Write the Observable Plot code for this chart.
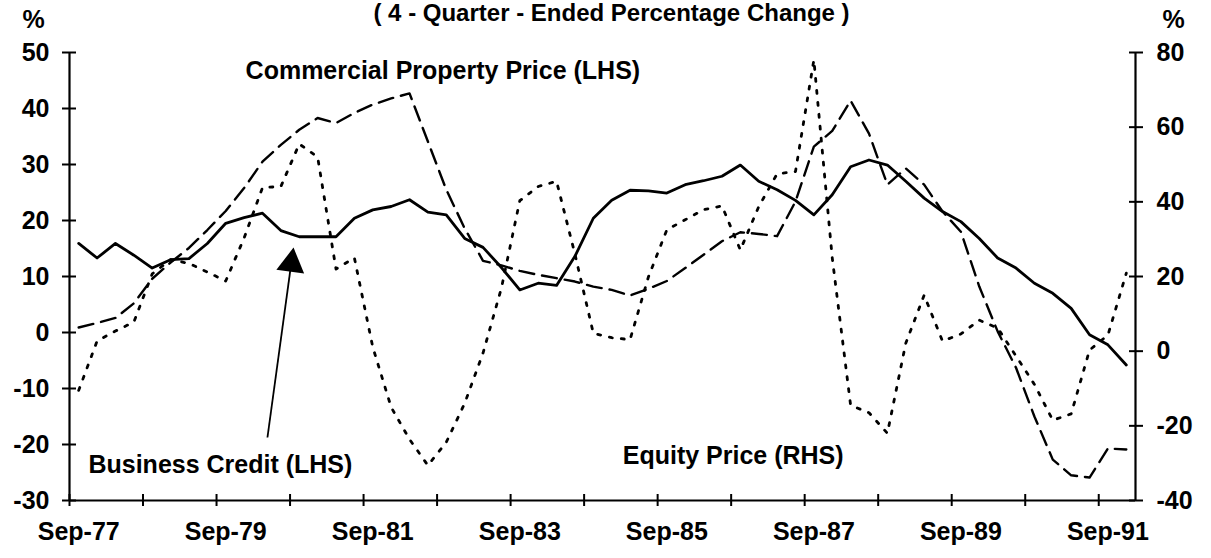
<!DOCTYPE html>
<html>
<head>
<meta charset="utf-8">
<script src="https://cdn.jsdelivr.net/npm/d3@7"></script>
<script src="https://cdn.jsdelivr.net/npm/@observablehq/plot@0.6"></script>
<style>
  html, body { margin: 0; padding: 0; background: #fff; }
</style>
</head>
<body>
<div id="chart"></div>
<script>
// ---- Data ----
const quarters = [
  "Sep-77","Dec-77",
  "Mar-78","Jun-78","Sep-78","Dec-78",
  "Mar-79","Jun-79","Sep-79","Dec-79",
  "Mar-80","Jun-80","Sep-80","Dec-80",
  "Mar-81","Jun-81","Sep-81","Dec-81",
  "Mar-82","Jun-82","Sep-82","Dec-82",
  "Mar-83","Jun-83","Sep-83","Dec-83",
  "Mar-84","Jun-84","Sep-84","Dec-84",
  "Mar-85","Jun-85","Sep-85","Dec-85",
  "Mar-86","Jun-86","Sep-86","Dec-86",
  "Mar-87","Jun-87","Sep-87","Dec-87",
  "Mar-88","Jun-88","Sep-88","Dec-88",
  "Mar-89","Jun-89","Sep-89","Dec-89",
  "Mar-90","Jun-90","Sep-90","Dec-90",
  "Mar-91","Jun-91","Sep-91","Dec-91"
];

// Business Credit (LHS, %)
const businessCredit = [
  15.9, 13.3, 15.9, 13.8, 11.5, 13.0, 13.2, 15.9, 19.5, 20.5,
  21.3, 18.2, 17.1, 17.1, 17.1, 20.4, 21.9, 22.5, 23.7, 21.5,
  21.0, 16.8, 15.2, 11.6, 7.6, 8.8, 8.4, 13.6, 20.4, 23.6,
  25.4, 25.3, 24.9, 26.4, 27.1, 27.9, 29.9, 27.0, 25.5, 23.6,
  21.0, 24.6, 29.6, 30.8, 29.9, 27.0, 24.0, 21.6, 19.8, 16.8,
  13.3, 11.5, 8.8, 7.0, 4.3, -0.4, -2.2, -5.8
];

// Commercial Property Price (LHS, %)
const propertyPrice = [
  0.9, 1.7, 2.6, 5.2, 9.6, 12.5, 15.1, 18.3, 21.7, 25.8,
  30.5, 33.5, 36.2, 38.3, 37.4, 39.2, 40.7, 41.8, 42.7, 34.1,
  25.5, 18.6, 12.8, 12.0, 11.0, 10.3, 9.7, 9.1, 8.2, 7.6,
  6.6, 7.8, 9.2, 11.5, 13.9, 16.3, 17.9, 17.6, 17.2, 23.4,
  33.2, 36.0, 41.4, 35.5, 26.4, 29.3, 26.4, 21.6, 18.0, 8.2,
  0.2, -6.3, -15.0, -22.7, -25.5, -25.9, -20.7, -20.9
];

// Equity Price (RHS, %)
const equityPrice = [
  -10.5, 2.7, 5.4, 7.8, 20.7, 24.5, 23.5, 21.2, 18.8, 30.3,
  43.8, 44.1, 55.5, 52.0, 22.0, 25.0, 1.1, -15.0, -23.6, -30.6,
  -24.4, -14.0, -0.5, 16.9, 40.3, 44.1, 45.5, 26.0, 4.8, 3.6,
  3.1, 19.9, 32.5, 35.2, 37.9, 38.9, 27.1, 38.7, 47.5, 48.1,
  78.0, 25.0, -14.5, -16.5, -22.0, 2.1, 15.0, 2.7, 4.6, 8.3,
  6.2, -1.3, -8.9, -18.5, -16.8, 0.3, 4.3, 20.9
];

const leftTicks = [-30, -20, -10, 0, 10, 20, 30, 40, 50];
const rightTicks = [-40, -20, 0, 20, 40, 60, 80];
const xTickLabels = ["Sep-77","Sep-79","Sep-81","Sep-83","Sep-85","Sep-87","Sep-89","Sep-91"];

const title = "( 4 - Quarter - Ended Percentage Change )";

// ---- Scales helpers ----
// right axis [-40, 80] maps onto left axis [-30, 50]
const toLeft = r => -30 + (r + 40) * (80 / 120);
const toRight = v => (v + 30) * (120 / 80) - 40;

const rows = quarters.map((q, i) => ({
  i, q,
  credit: businessCredit[i],
  property: propertyPrice[i],
  equity: equityPrice[i]
}));

const yearBoundaries = d3.range(-0.5, quarters.length - 1, 4); // tick marks between years
const labelIdx = xTickLabels.map(l => quarters.indexOf(l));

const font = "'Liberation Sans', Arial, Helvetica, sans-serif";

const chart = Plot.plot({
  width: 1211,
  height: 558,
  marginLeft: 69,
  marginRight: 76,
  marginTop: 52,
  marginBottom: 58,
  x: { type: "linear", domain: [-0.5, quarters.length - 0.5] },
  y: { domain: [-30, 50] },
  style: { fontFamily: font, fontSize: "25px", fontWeight: "bold", background: "#fff", color: "#000" },
  marks: [
    // frame axis lines
    Plot.ruleX([-0.5, quarters.length - 0.5], { stroke: "#000", strokeWidth: 2.2 }),
    Plot.ruleY([-30], { stroke: "#000", strokeWidth: 2.2 }),

    // left axis: crossing ticks + labels
    Plot.axisY(leftTicks, { anchor: "left", tickSize: 14, dx: 7, tickFormat: () => "", label: null, strokeWidth: 2 }),
    Plot.axisY(leftTicks, { anchor: "left", tickSize: 0, tickPadding: 20, tickFormat: d => String(d), label: null }),

    // right axis: crossing ticks + labels
    Plot.axisY(rightTicks.map(toLeft), { anchor: "right", tickSize: 14, dx: -7, tickFormat: () => "", label: null, strokeWidth: 2 }),
    Plot.axisY(rightTicks.map(toLeft), { anchor: "right", tickSize: 0, tickPadding: 21, tickFormat: v => String(Math.round(toRight(v))), label: null }),

    // bottom axis: crossing ticks + labels
    Plot.axisX(yearBoundaries, { anchor: "bottom", tickSize: 12, dy: -6, tickFormat: () => "", label: null, strokeWidth: 2 }),
    Plot.axisX(labelIdx, { anchor: "bottom", tickSize: 0, tickPadding: 22, tickFormat: i => quarters[i], label: null }),

    // series
    Plot.line(rows, { x: "i", y: "property", stroke: "#000", strokeWidth: 2.4, strokeDasharray: "15,8" }),
    Plot.line(rows, { x: "i", y: d => toLeft(d.equity), stroke: "#000", strokeWidth: 2.8, strokeDasharray: "3,9" }),
    Plot.line(rows, { x: "i", y: "credit", stroke: "#000", strokeWidth: 2.8 }),

    // annotations
    Plot.text(["Commercial Property Price (LHS)"], { x: 9.08, y: 45.3, text: d => d, textAnchor: "start", lineAnchor: "bottom" }),
    Plot.text(["Business Credit (LHS)"], { x: 0.53, y: -25.0, text: d => d, textAnchor: "start", lineAnchor: "bottom" }),
    Plot.text(["Equity Price (RHS)"], { x: 29.6, y: -23.4, text: d => d, textAnchor: "start", lineAnchor: "bottom" }),

    // arrow pointing to Business Credit line
    Plot.link([0], { x1: 10.27, y1: -18.75, x2: 11.55, y2: 12.0, stroke: "#000", strokeWidth: 1.8 }),
    Plot.dot([0], { x: 11.57, y: 12.3, symbol: "triangle", r: 10.4, fill: "#000", stroke: "none", rotate: 7.8 }),

    // title and unit labels
    Plot.text([title], { frameAnchor: "top", dx: 9, dy: -32, text: d => d, lineAnchor: "bottom", fontSize: 24 }),
    Plot.text(["%"], { frameAnchor: "top-left", dx: -47, dy: -25, text: d => d, textAnchor: "start", lineAnchor: "bottom" }),
    Plot.text(["%"], { frameAnchor: "top-right", dx: 27, dy: -25, text: d => d, textAnchor: "start", lineAnchor: "bottom" })
  ]
});

document.getElementById("chart").appendChild(chart);
</script>
</body>
</html>
